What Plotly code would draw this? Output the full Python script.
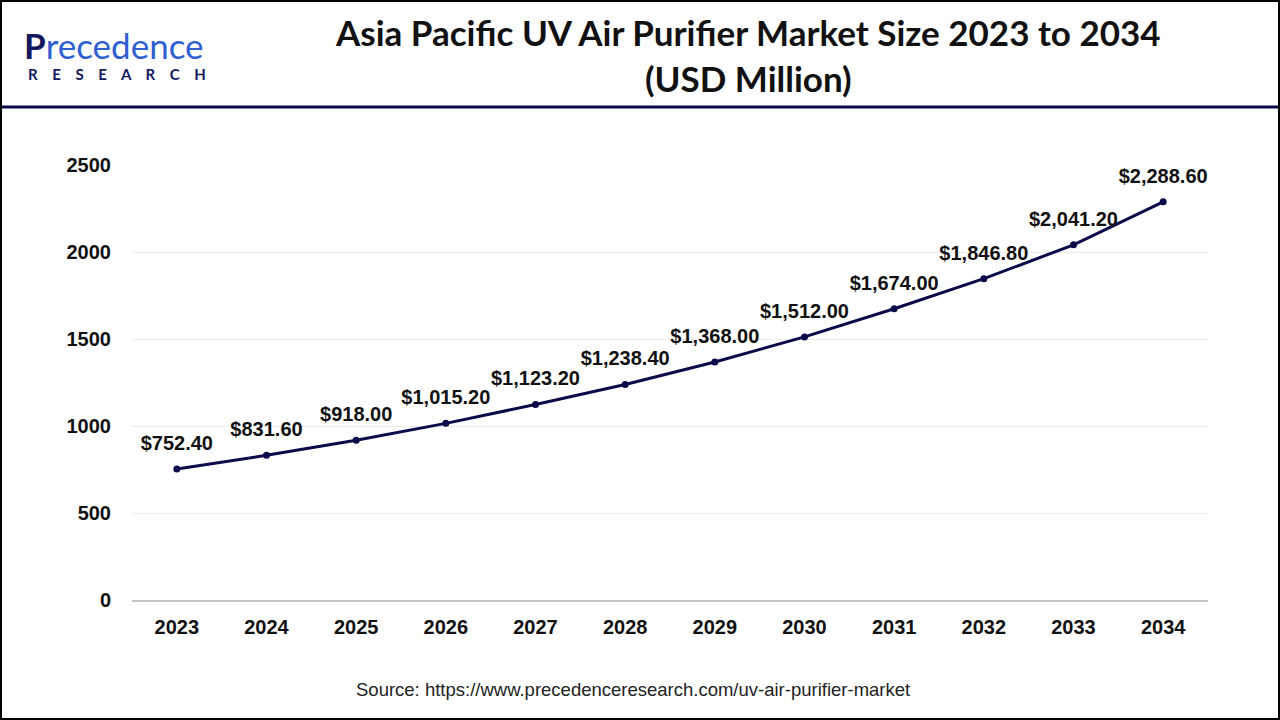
import plotly.graph_objects as go

years = ["2023", "2024", "2025", "2026", "2027", "2028", "2029", "2030", "2031", "2032", "2033", "2034"]
values = [752.40, 831.60, 918.00, 1015.20, 1123.20, 1238.40, 1368.00, 1512.00, 1674.00, 1846.80, 2041.20, 2288.60]
labels = ["$752.40", "$831.60", "$918.00", "$1,015.20", "$1,123.20", "$1,238.40", "$1,368.00",
          "$1,512.00", "$1,674.00", "$1,846.80", "$2,041.20", "$2,288.60"]
y_ticks = [0, 500, 1000, 1500, 2000, 2500]

navy = "#0b0b4a"
W, H = 1280, 720
ML, MR, MT, MB = 132, 72, 165, 120
PW, PH = W - ML - MR, H - MT - MB


def px(x):
    return (x - ML) / PW


def py(y):
    return (H - MB - y) / PH


fig = go.Figure()
fig.add_trace(go.Scatter(
    x=years, y=values, mode="lines+markers",
    line=dict(color=navy, width=3),
    marker=dict(color=navy, size=7),
    cliponaxis=False, hoverinfo="skip", showlegend=False,
))
# value labels (transparent larger markers push the text a bit higher)
fig.add_trace(go.Scatter(
    x=years, y=values, mode="markers+text",
    marker=dict(color="rgba(0,0,0,0)", size=21),
    text=labels, textposition="top center",
    textfont=dict(family="Liberation Sans", size=20, color="#111111", weight="bold"),
    cliponaxis=False, hoverinfo="skip", showlegend=False,
))

annotations = [
    dict(text="<b>Asia Pacific UV Air Purifier Market Size 2023 to 2034<br>(USD Million)</b>",
         xref="paper", yref="paper", x=px(748), y=py(55), xanchor="center",
         yanchor="middle", showarrow=False, align="center",
         font=dict(family="Lato", size=35, color="#111111")),
    dict(text="Source: https://www.precedenceresearch.com/uv-air-purifier-market",
         xref="paper", yref="paper", x=px(633), y=py(689), xanchor="center",
         yanchor="middle", showarrow=False,
         font=dict(family="Liberation Sans", size=18.5, color="#222222")),
    dict(text="<b><span style='color:#14195e'>P</span></b>recedence",
         xref="paper", yref="paper", x=px(22), y=py(45), xanchor="left",
         yanchor="middle", showarrow=False,
         font=dict(family="Lato", size=35, color="#2f5fd0")),
    dict(text="<b>" + "\u00a0\u00a0\u00a0\u00a0".join("RESEARCH") + "</b>",
         xref="paper", yref="paper", x=px(26), y=py(74), xanchor="left",
         yanchor="middle", showarrow=False,
         font=dict(family="Lato", size=15, color="#14195e")),
]

fig.update_layout(
    width=W, height=H,
    paper_bgcolor="white", plot_bgcolor="white",
    margin=dict(l=ML, r=MR, t=MT, b=MB),
    xaxis=dict(type="category", range=[-0.5, 11.5], showgrid=False, showline=True,
               linecolor="#c4c4c4", linewidth=2, ticks="", ticklabelstandoff=8,
               tickfont=dict(family="Liberation Sans", size=20, color="#111111", weight="bold")),
    yaxis=dict(range=[0, 2500], tickvals=y_ticks, showgrid=True, gridcolor="#ececec",
               zeroline=False, showline=False, ticks="", ticklabelstandoff=20,
               tickfont=dict(family="Liberation Sans", size=20, color="#111111", weight="bold")),
    shapes=[
        dict(type="line", xref="paper", yref="paper", x0=px(0), x1=px(W),
             y0=py(107), y1=py(107), line=dict(color=navy, width=3)),
        dict(type="rect", xref="paper", yref="paper", x0=px(1), x1=px(W - 1),
             y0=py(H - 1), y1=py(1), line=dict(color="#000000", width=2)),
    ],
    annotations=annotations,
)

fig.write_html("out.html", config={"displayModeBar": False},
               post_script="document.body.style.margin='0';document.body.style.overflow='hidden';")
